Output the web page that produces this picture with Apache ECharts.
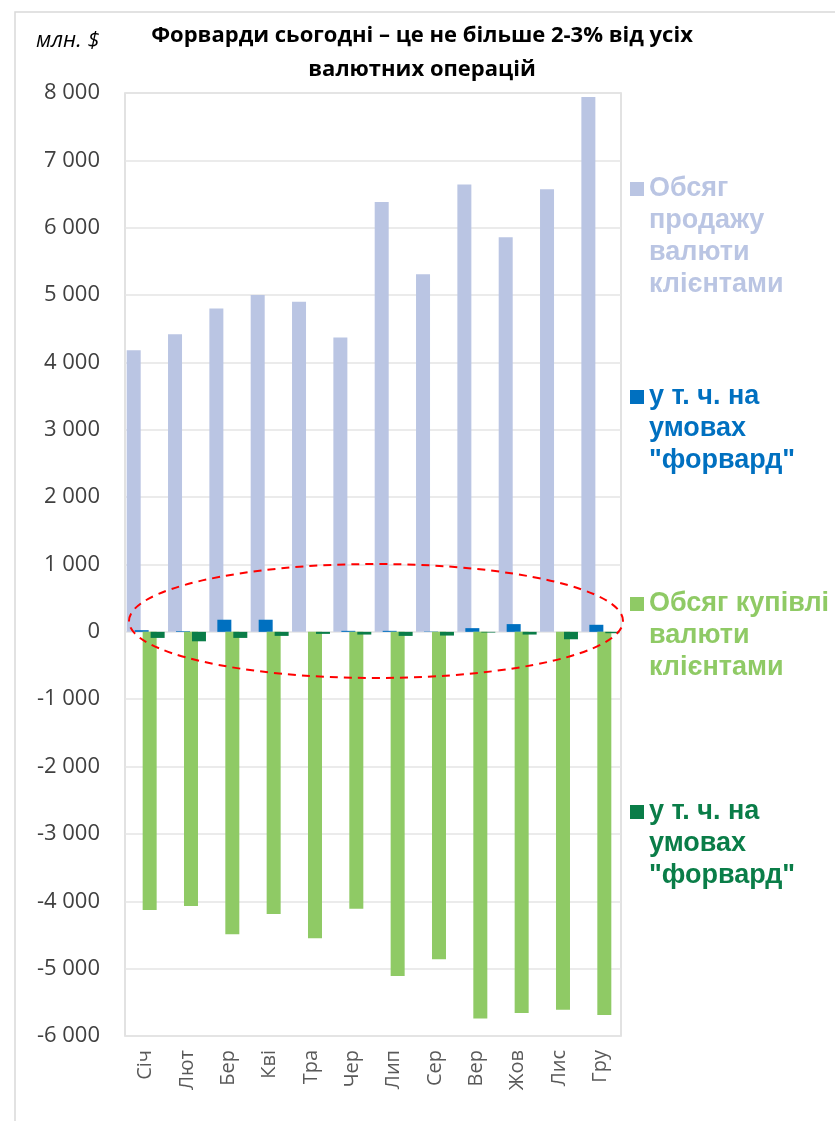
<!DOCTYPE html>
<html>
<head>
<meta charset="utf-8">
<script src="https://cdn.jsdelivr.net/npm/echarts@6/dist/echarts.min.js"></script>
<style>
    html, body { margin: 0; padding: 0; background: #fff; }
    #chart { width: 835px; height: 1121px; }
</style>
</head>
<body>
<div id="chart"></div>
<script>
    // місяці
    var months = ['Січ', 'Лют', 'Бер', 'Кві', 'Тра', 'Чер', 'Лип', 'Сер', 'Вер', 'Жов', 'Лис', 'Гру'];
    // обсяг продажу валюти клієнтами, млн. $
    var salesTotal = [4180, 4420, 4800, 5000, 4900, 4370, 6380, 5310, 6640, 5860, 6570, 7940];
    // у т.ч. форварди (продаж)
    var salesForward = [25, 10, 180, 180, 0, 15, 15, 5, 55, 115, 0, 105];
    // обсяг купівлі валюти клієнтами
    var buyTotal = [-4130, -4070, -4490, -4190, -4550, -4110, -5110, -4860, -5740, -5660, -5610, -5690];
    // у т.ч. форварди (купівля)
    var buyForward = [-90, -140, -90, -60, -30, -40, -60, -55, -10, -40, -110, -20];

    var seriesKeys = ['sales', 'salesFwd', 'buy', 'buyFwd'];
    var legendLabels = [
        'Обсяг\nпродажу\nвалюти\nклієнтами',
        'у т. ч. на\nумовах\n"форвард"',
        'Обсяг купівлі\nвалюти\nклієнтами',
        'у т. ч. на\nумовах\n"форвард"'
    ];
    var colors = ['#BAC5E3', '#0070C0', '#8FCA65', '#0A7D48'];
    var legendIconY = [189, 397, 604, 812];

    function $each(arr, fn) {
        for (var i = 0; i < arr.length; i++) fn(i, arr[i]);
    }

    function fmt(v) {
        var s = String(Math.abs(v));
        s = s.replace(/\B(?=(\d{3})+(?!\d))/g, ' ');
        return (v < 0 ? '-' : '') + s;
    }

    var lineH = 32;
    var legends = [];
    $each(seriesKeys, function (i, key) {
        var lines = legendLabels[i].split('\n').length;
        // порожні рядки зверху, щоб квадратик стояв навпроти першого рядка
        var pad = '';
        for (var k = 0; k < lines - 1; k++) pad += '\n';
        var blockH = (2 * lines - 1) * lineH;
        var ts = {
            color: colors[i],
            fontFamily: 'Liberation Sans',
            fontWeight: 'bold',
            fontSize: 27,
            lineHeight: lineH
        };
        legends.push({
            left: 630,
            top: legendIconY[i] - blockH / 2,
            padding: 0,
            orient: 'vertical',
            itemWidth: 14,
            itemHeight: 14,
            icon: 'rect',
            selectedMode: false,
            data: [{ name: key, textStyle: ts }],
            formatter: function () { return pad + legendLabels[i]; },
            textStyle: ts
        });
    });

    var seriesData = [salesTotal, salesForward, buyTotal, buyForward];
    var series = [];
    $each(seriesKeys, function (i, key) {
        series.push({
            name: key,
            type: 'bar',
            data: seriesData[i],
            barWidth: 14,
            barGap: '-43%',
            itemStyle: { color: colors[i] },
            silent: true
        });
    });

    var myChart = echarts.init(document.getElementById('chart'));
    var option = {
        animation: false,
        backgroundColor: '#fff',
        title: {
            text: 'Форварди сьогодні – це не більше 2-3% від усіх\nвалютних операцій',
            left: 417,
            textAlign: 'center',
            top: 14,
            textStyle: {
                fontFamily: 'Open Sans',
                fontWeight: 'bold',
                fontSize: 22,
                lineHeight: 34,
                color: '#000'
            }
        },
        legend: legends,
        grid: {
            left: 125,
            right: 214,
            top: 93,
            bottom: 85,
            show: true,
            borderColor: '#D9D9D9',
            borderWidth: 1.5
        },
        xAxis: {
            type: 'category',
            data: months,
            axisLine: { show: false, onZero: false },
            axisTick: { show: false },
            axisLabel: {
                rotate: 90,
                margin: 14,
                fontFamily: 'Open Sans',
                fontSize: 20,
                color: '#595959'
            }
        },
        yAxis: {
            type: 'value',
            min: -6000,
            max: 8000,
            interval: 1000,
            axisLine: { show: false },
            axisTick: { show: false },
            splitLine: { lineStyle: { color: '#E4E4E4', width: 1.5 } },
            axisLabel: {
                margin: 25,
                fontFamily: 'Open Sans',
                fontSize: 22,
                color: '#404040',
                formatter: fmt
            }
        },
        graphic: [
            {
                type: 'rect',
                silent: true,
                shape: { x: 15, y: 12, width: 900, height: 1200 },
                style: { fill: 'none', stroke: '#D9D9D9', lineWidth: 1.5 }
            },
            {
                type: 'text',
                left: 36,
                top: 30,
                style: {
                    text: 'млн. $',
                    fontFamily: 'Open Sans',
                    fontStyle: 'italic',
                    fontSize: 22,
                    fill: '#000'
                }
            },
            {
                // червоний пунктирний еліпс довкола нуля
                type: 'ellipse',
                silent: true,
                z: 100,
                shape: { cx: 376, cy: 621, rx: 247, ry: 57 },
                style: { fill: 'none', stroke: '#FF0000', lineWidth: 2, lineDash: [8, 6] }
            }
        ],
        series: series
    };
    myChart.setOption(option);
</script>
</body>
</html>
